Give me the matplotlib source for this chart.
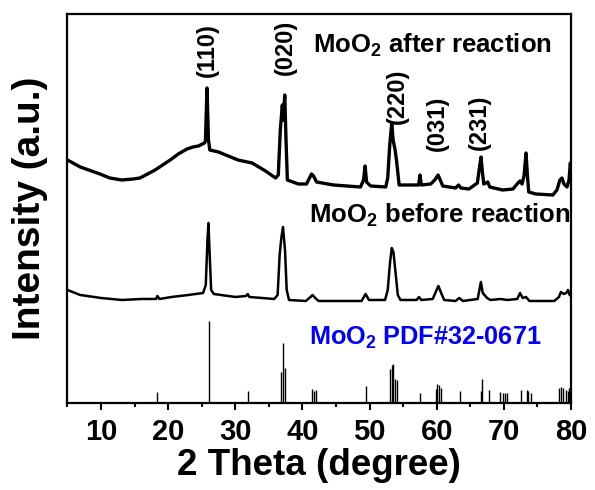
import matplotlib
matplotlib.use("Agg")
import matplotlib.pyplot as plt
from matplotlib.ticker import MultipleLocator

plt.rcParams['font.family'] = ['Liberation Sans', 'DejaVu Sans']
plt.rcParams['font.weight'] = 'bold'
plt.rcParams['mathtext.fontset'] = 'custom'
plt.rcParams['mathtext.rm'] = 'Liberation Sans:bold'
plt.rcParams['mathtext.bf'] = 'Liberation Sans:bold'
plt.rcParams['mathtext.it'] = 'Liberation Sans:bold'

# MoO2 after reaction (2theta, intensity a.u.)
after_x = [5.0, 6.9, 9.85, 11.3, 13.1, 14.8, 15.8, 18.05, 20.3, 21.5, 22.8, 23.7, 24.5, 25.4,
           25.55, 25.78, 26.0, 26.2,
           27.5, 30.4, 32.5, 34.5, 36.0, 36.4, 36.7, 37.0, 37.15, 37.36, 37.55, 37.75,
           39.4, 40.6, 41.35, 41.65, 42.1, 44.6, 48.65, 49.1, 49.33, 49.55, 50.15,
           52.4, 52.7, 53.0, 53.3, 53.5, 53.8, 54.0, 54.4, 56.1, 57.3, 57.5, 57.7,
           59.1, 59.7, 60.2, 60.4, 60.9, 62.8, 63.25, 63.6, 64.8, 66.05, 66.35, 66.6,
           66.8, 67.0, 67.6, 67.9, 69.8, 71.35, 72.1, 72.4, 72.7, 73.0, 73.3, 73.5,
           73.7, 74.75, 77.3, 77.9, 78.35, 78.65, 78.95, 79.4, 79.7, 79.9, 80.0]
after_y = [243, 236, 229, 225, 223, 224, 225, 233, 243, 249, 254, 256, 257, 260,
           262, 315, 263, 253,
           251, 243, 240, 232, 225, 228, 273, 298, 283, 308, 263, 223,
           219, 219, 229, 227, 221, 218, 216, 223, 237, 221, 217,
           216, 225, 258, 280, 263, 253, 243, 218, 218, 218, 228, 218,
           219, 223, 228, 225, 217, 215, 218, 215, 214, 220, 235, 246,
           231, 219, 221, 216, 213, 214, 220, 222, 219, 227, 250, 228,
           211, 209, 208, 213, 223, 225, 219, 216, 223, 240, 233]

# MoO2 before reaction
before_x = [5.0, 6.9, 10.0, 13.1, 16.0, 18.2, 18.4, 18.7, 20.5, 23.0, 25.2, 25.6, 25.85,
            26.0, 26.15, 26.4, 26.8, 30.0, 31.6, 31.85, 32.1, 35.8, 36.3, 36.6, 36.85,
            37.1, 37.4, 37.65, 38.0, 40.5, 41.2, 41.5, 41.9, 42.4, 48.8, 49.4, 49.9,
            52.3, 52.7, 53.05, 53.3, 53.55, 53.9, 54.2, 54.6, 57.0, 57.35, 57.7, 59.4,
            59.85, 60.25, 60.6, 61.1, 62.8, 63.35, 63.9, 66.1, 66.35, 66.57, 66.85,
            67.5, 68.0, 69.5, 70.5, 72.0, 72.4, 72.8, 73.3, 73.8, 77.5, 78.2, 78.5,
            78.9, 79.3, 79.55, 79.8, 80.0]
before_y = [113, 108, 105, 103, 104, 104, 107, 104, 106, 108, 110, 118, 163,
            180, 153, 113, 109, 106, 107, 109, 106, 104, 108, 148, 165,
            176, 153, 113, 103, 102, 106, 108, 105, 102, 102, 109, 103,
            103, 113, 141, 155, 151, 128, 108, 103, 103, 106, 103, 104,
            111, 117, 111, 103, 102, 105, 102, 104, 113, 121, 110,
            105, 103, 104, 103, 104, 110, 105, 106, 102, 102, 106, 111,
            109, 110, 113, 108, 107]

# MoO2 PDF#32-0671 reference lines
pdf_pos = [18.4, 26.05, 31.85, 36.8, 37.05, 37.35, 41.45, 41.7, 41.95, 49.5, 53.0, 53.3,
           53.55, 53.85, 54.1, 57.5, 59.85, 60.1, 60.35, 60.7, 63.4, 66.55, 66.8, 67.75,
           69.4, 69.8, 70.15, 70.4, 72.5, 73.4, 73.6, 74.0, 78.25, 78.5, 78.75, 79.25,
           79.5, 79.75]
pdf_int = [11, 82, 12, 31, 60, 35, 14, 12, 13, 17, 34, 38,
           39, 24, 23, 10, 14, 19, 18, 15, 12, 12, 24, 13,
           11, 10, 10, 10, 13, 13, 12, 10, 15, 16, 15, 13,
           12, 15]

hkl_labels = ['(110)', '(020)', '(220)', '(031)', '(231)']
hkl_x = [25.8, 37.5, 54.1, 60.1, 66.3]
hkl_y = [353, 356, 307, 280, 281]

fig = plt.figure(figsize=(5.95, 4.9), dpi=100)
ax = fig.add_axes([0.1134, 0.1776, 0.8463, 0.7938])

ax.plot(after_x, after_y, color='black', lw=2.4)
ax.plot(before_x, before_y, color='black', lw=1.8)
ax.vlines(pdf_pos, 0, pdf_int, color='black', lw=1.0)

for lab, x, y in zip(hkl_labels, hkl_x, hkl_y):
    ax.text(x, y, lab, rotation=90, ha='center', va='center', fontsize=17, fontweight='bold')

ax.text(41.6, 350, r'MoO$_2$ after reaction', fontsize=18.5, fontweight='bold', va='baseline')
ax.text(41.0, 180, r'MoO$_2$ before reaction', fontsize=18.5, fontweight='bold', va='baseline')
ax.text(40.9, 58, r'MoO$_2$ PDF#32-0671', fontsize=18.2, fontweight='bold', va='baseline',
        color='#0000ff')

ax.set_xlim(5, 80)
ax.set_ylim(0, 389)
ax.xaxis.set_major_locator(MultipleLocator(10))
ax.xaxis.set_minor_locator(MultipleLocator(5))
ax.set_yticks([])
ax.tick_params(axis='x', which='major', direction='out', length=5, width=1.5, labelsize=21, pad=6)
ax.tick_params(axis='x', which='minor', direction='out', length=3, width=1.5)
for lab in ax.get_xticklabels():
    lab.set_fontweight('bold')
for sp in ax.spines.values():
    sp.set_linewidth(1.6)

ax.set_xlabel('2 Theta (degree)', fontsize=26.5, fontweight='bold', labelpad=1)
ax.set_ylabel('Intensity (a.u.)', fontsize=28, fontweight='bold', labelpad=14)

fig.savefig('out.png', dpi=100)
